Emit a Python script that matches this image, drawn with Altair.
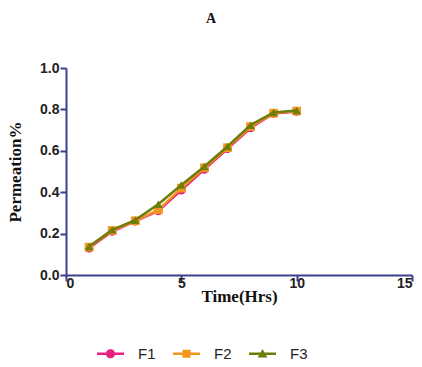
import altair as alt
import pandas as pd

time_hrs = [1, 2, 3, 4, 5, 6, 7, 8, 9, 10]
f1 = [0.13, 0.21, 0.26, 0.31, 0.41, 0.51, 0.61, 0.71, 0.78, 0.79]
f2 = [0.135, 0.215, 0.262, 0.315, 0.42, 0.518, 0.615, 0.717, 0.782, 0.792]
f3 = [0.138, 0.218, 0.265, 0.342, 0.435, 0.524, 0.621, 0.724, 0.785, 0.795]
series_names = ["F1", "F2", "F3"]
series_colors = ["#e8207e", "#f5961e", "#6e7d08"]
series_shapes = ["circle", "square", "triangle-up"]

# legend symbols: a short line with the marker on it
legend_paths = [
    "M-1,-0.09H1V0.09H-1Z M-0.34,0 A0.34,0.34 0 1 1 0.34,0 A0.34,0.34 0 1 1 -0.34,0Z",
    "M-1,-0.09H1V0.09H-1Z M-0.3,-0.3H0.3V0.3H-0.3Z",
    "M-1,-0.09H1V0.09H-1Z M0,-0.36L0.36,0.27H-0.36Z",
]

rows = []
for name, vals in zip(series_names, [f1, f2, f3]):
    for t, v in zip(time_hrs, vals):
        rows.append({"Time": t, "Permeation": v, "Series": name})
df = pd.DataFrame(rows)

axis_color = "#3b3f8c"
x = alt.X("Time:Q", title="Time(Hrs)",
          scale=alt.Scale(domain=[0, 15], nice=False),
          axis=alt.Axis(values=[0, 5, 10, 15], format="d", titlePadding=-2, labelPadding=-5))
y = alt.Y("Permeation:Q", title="Permeation%",
          scale=alt.Scale(domain=[0, 1.0], nice=False),
          axis=alt.Axis(values=[0, 0.2, 0.4, 0.6, 0.8, 1.0], format=".1f", titlePadding=15, labelPadding=1))

layers = []
for i, name in enumerate(series_names):
    sub = df[df.Series == name]
    layers.append(alt.Chart(sub).mark_line(strokeWidth=2.5, color=series_colors[i]).encode(x=x, y=y))
    layers.append(alt.Chart(sub).mark_point(filled=True, size=75, opacity=1,
                                            shape=series_shapes[i], color=series_colors[i]).encode(x=x, y=y))

legend_layer = alt.Chart(df).transform_filter("false").mark_point(filled=True, opacity=1).encode(
    x=x, y=y,
    color=alt.Color("Series:N", scale=alt.Scale(domain=series_names, range=series_colors),
                    legend=alt.Legend(title=None, orient="none", direction="horizontal",
                                      legendX=31, legendY=272,
                                      symbolSize=729, symbolStrokeWidth=0, symbolOpacity=1,
                                      labelFontSize=15, labelFont="Liberation Sans", labelColor="#222222",
                                      columnPadding=17, labelOffset=14)),
    shape=alt.Shape("Series:N", scale=alt.Scale(domain=series_names, range=legend_paths)),
)
layers.append(legend_layer)

chart = alt.layer(*layers).properties(
    width=346, height=207,
    autosize=alt.AutoSizeParams(type="none"),
    padding={"left": 66, "top": 68, "right": 10, "bottom": 92},
    title=alt.TitleParams("A", font="Liberation Serif", fontSize=14, fontWeight="bold",
                          anchor="middle", dx=-28, offset=35, color="#111111"),
).configure_view(stroke=None).configure_axis(
    domainColor=axis_color, domainWidth=2, tickColor=axis_color, tickWidth=2, tickSize=6,
    grid=False, labelFont="Liberation Sans", labelFontSize=14, labelFontWeight="bold",
    labelColor="#222222", titleFont="Liberation Serif", titleFontSize=17, titleFontWeight="bold",
    titleColor="#111111"
)

chart.save("out.html", embed_options={"renderer": "svg", "actions": False})
